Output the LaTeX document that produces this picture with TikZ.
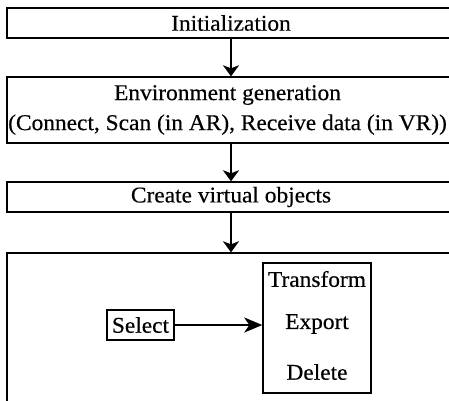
\documentclass[tikz,border=0pt]{standalone}
\usepackage{fontspec}
\setmainfont{Liberation Serif}[FakeStretch=1.04,FakeBold=0.4]
\usetikzlibrary{arrows.meta}
\begin{document}
\begin{tikzpicture}[x=1pt,y=-1pt,
  box/.style={draw, line width=1.4pt, inner sep=0pt, align=center,
    font=\fontsize{22.5}{30}\selectfont},
  txt/.style={inner sep=0pt, align=center, font=\fontsize{22.5}{30}\selectfont},
  flow/.style={line width=2.5pt, -{Stealth[length=11pt,width=16pt,inset=3pt]}},
  hflow/.style={line width=2.5pt, -{Stealth[length=18pt,width=15pt,inset=5pt]}}]
\useasboundingbox (0,0) rectangle (449,400);
\clip (0,0) rectangle (449,400);
\node[box, minimum width=448pt, minimum height=30pt] (init) at (231,23) {Initialization};
\node[box, minimum width=448pt, minimum height=66pt] (env) at (231,110) {};
\node[txt] (envtext) at (227.5,110)
  {Environment generation\\(Connect, Scan (in AR), Receive data (in VR))};
\node[box, minimum width=448pt, minimum height=30pt] (create) at (231,197) {Create virtual objects};
\node[box, minimum width=448pt, minimum height=180pt] (work) at (231,343) {};
\node[box, minimum width=67pt, minimum height=30pt] (select) at (140.5,325) {Select};
\node[box, minimum width=108pt, minimum height=130pt] (ops) at (317,328) {};
\node[txt] (transform) at (317,279) {Transform};
\node[txt] (export) at (317,324) {Export};
\node[txt] (delete) at (317,372) {Delete};
\draw[flow] (init) -- (env);
\draw[flow] (env) -- (create);
\draw[flow] (create) -- (work);
\draw[hflow] (select.east) -- (select.east -| ops.west);
\end{tikzpicture}
\end{document}
